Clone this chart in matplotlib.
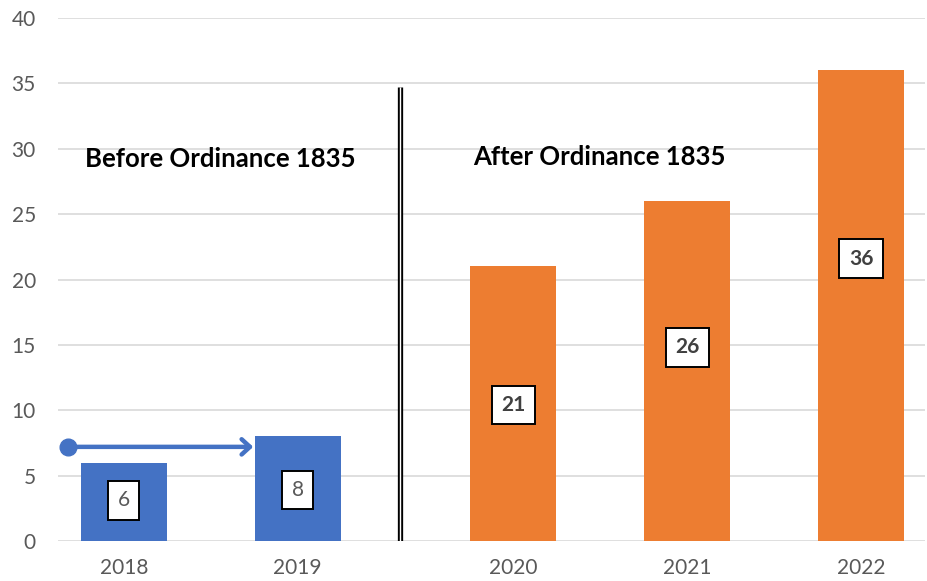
import matplotlib.pyplot as plt

# данные
years = ['2018', '2019', '2020', '2021', '2022']
values = [6, 8, 21, 26, 36]
positions = [0, 1, 2.24, 3.24, 4.24]  # разрыв между периодами
label_y = [3.1, 3.9, 10.4, 14.8, 21.6]
colors = ['#4472C4', '#4472C4', '#ED7D31', '#ED7D31', '#ED7D31']

plt.rcParams['font.family'] = ['Lato', 'DejaVu Sans']

fig = plt.figure(figsize=(9.27, 5.81), dpi=100)
ax = fig.add_axes([58 / 927, 40 / 581, 867 / 927, 523 / 581])

ax.bar(positions, values, width=0.494, color=colors, zorder=2)

# подписи значений в рамках
for i, (x, v) in enumerate(zip(positions, values)):
    bold = v > 10
    ax.text(x, label_y[i], str(v), ha='center', va='center', fontsize=15,
            fontweight='bold' if bold else 'normal',
            color='#404040' if bold else '#595959', zorder=4,
            bbox=dict(boxstyle='square,pad=0.45', fc='white', ec='black', lw=1.4))

# двойная вертикальная линия
ax.plot([1.589, 1.589], [0, 34.7], color='black', lw=3.8, zorder=3, solid_capstyle='butt')
ax.plot([1.589, 1.589], [0, 34.7], color='white', lw=1.0, zorder=3, solid_capstyle='butt')

# стрелка
ax.annotate('', xy=(0.76, 7.2), xytext=(-0.32, 7.2),
            arrowprops=dict(arrowstyle='->,head_length=0.6,head_width=0.55', color='#4472C4', lw=3.2),
            zorder=5)
ax.plot(-0.32, 7.2, 'o', color='#4472C4', markersize=12, zorder=5)

ax.text(0.552, 29.2, 'Before Ordinance 1835', ha='center', va='center',
        fontsize=18.5, fontweight='bold', color='black')
ax.text(2.736, 29.4, 'After Ordinance 1835', ha='center', va='center',
        fontsize=18.5, fontweight='bold', color='black')

ax.set_xlim(-0.379, 4.608)
ax.set_ylim(0, 40)
ax.set_yticks(range(0, 41, 5))
ax.set_xticks(positions)
ax.set_xticklabels(years)
ax.grid(axis='y', color='#D9D9D9', lw=1.2, zorder=0)
ax.set_axisbelow(True)
for s in ax.spines.values():
    s.set_visible(False)
ax.tick_params(length=0, labelsize=15, labelcolor='#595959')
ax.tick_params(axis='x', pad=12)
ax.tick_params(axis='y', pad=16)

fig.savefig('out.png', dpi=100)
